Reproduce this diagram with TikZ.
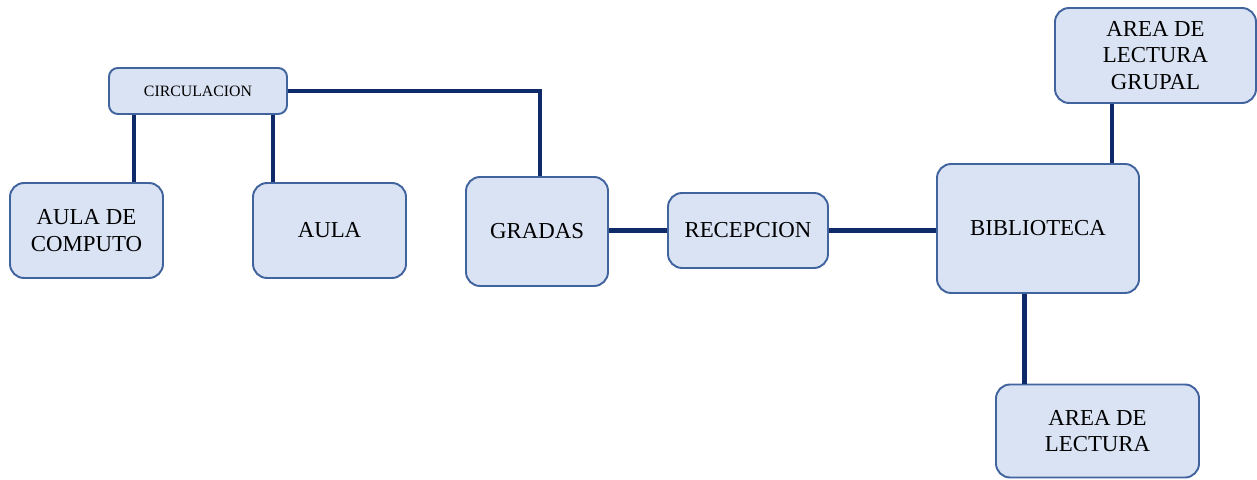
\documentclass[tikz,border=0pt]{standalone}
\usepackage{fontspec}
\setmainfont{Liberation Serif}
\usepackage{tikz}
\usetikzlibrary{positioning,calc}
\definecolor{pbfill}{HTML}{DAE3F3}
\definecolor{pbedge}{HTML}{41649F}
\definecolor{pbline}{HTML}{0F2A68}

\begin{document}
\begin{tikzpicture}[
  room/.style={draw=pbedge, line width=1.1pt, fill=pbfill, rounded corners=8pt,
               align=center, inner sep=2pt, font=\fontsize{13}{15}\selectfont},
  small/.style={room, rounded corners=5pt, font=\fontsize{9}{11}\selectfont},
  link/.style={draw=pbline, line width=2.8pt},
]
  \useasboundingbox (0,0) rectangle (25.14,9.58);

  % ---- left wing --------------------------------------------------------------
  \node[small, minimum width=3.56cm, minimum height=0.92cm] (circ) at (3.96,7.76) {CIRCULACION};
  \node[room, minimum width=3.06cm, minimum height=1.90cm] (comp) at (1.73,4.97) {AULA DE\\COMPUTO};
  \node[room, minimum width=3.06cm, minimum height=1.90cm] (aula) at (6.59,4.97) {AULA};
  \node[room, minimum width=2.84cm, minimum height=2.18cm] (gradas) at (10.74,4.95) {GRADAS};

  % ---- centre and right wing ----------------------------------------------------
  \node[room, minimum width=3.20cm, minimum height=1.50cm] (recep) at (14.96,4.97) {RECEPCION};
  \node[room, minimum width=4.04cm, minimum height=2.58cm] (bib) at (20.76,5.01) {BIBLIOTECA};
  \node[room, minimum width=4.02cm, minimum height=1.90cm] (grupal) at (23.11,8.47) {AREA DE\\LECTURA\\GRUPAL};
  \node[room, minimum width=4.06cm, minimum height=1.86cm] (lect) at (21.95,0.96) {AREA DE\\LECTURA};

  % ---- connectors -----------------------------------------------------------
  \coordinate (c1) at ([xshift=0.52cm]circ.south west);
  \coordinate (c2) at ([xshift=-0.30cm]circ.south east);
  \coordinate (g1) at ([xshift=0.06cm]gradas.north);
  \coordinate (b1) at ([xshift=-0.56cm]bib.north east);
  \coordinate (b2) at ([xshift=1.76cm]bib.south west);

  \draw[link] (c1) -- (c1 |- comp.north);
  \draw[link] (c2) -- (c2 |- aula.north);
  \draw[link] (circ.east) -| (g1);
  \draw[link] (gradas.east |- recep.west) -- (recep.west);
  \draw[link] (recep.east) -- (recep.east -| bib.west);
  \draw[link] (b1) -- (b1 |- grupal.south);
  \draw[link] (b2) -- (b2 |- lect.north);
\end{tikzpicture}
\end{document}
